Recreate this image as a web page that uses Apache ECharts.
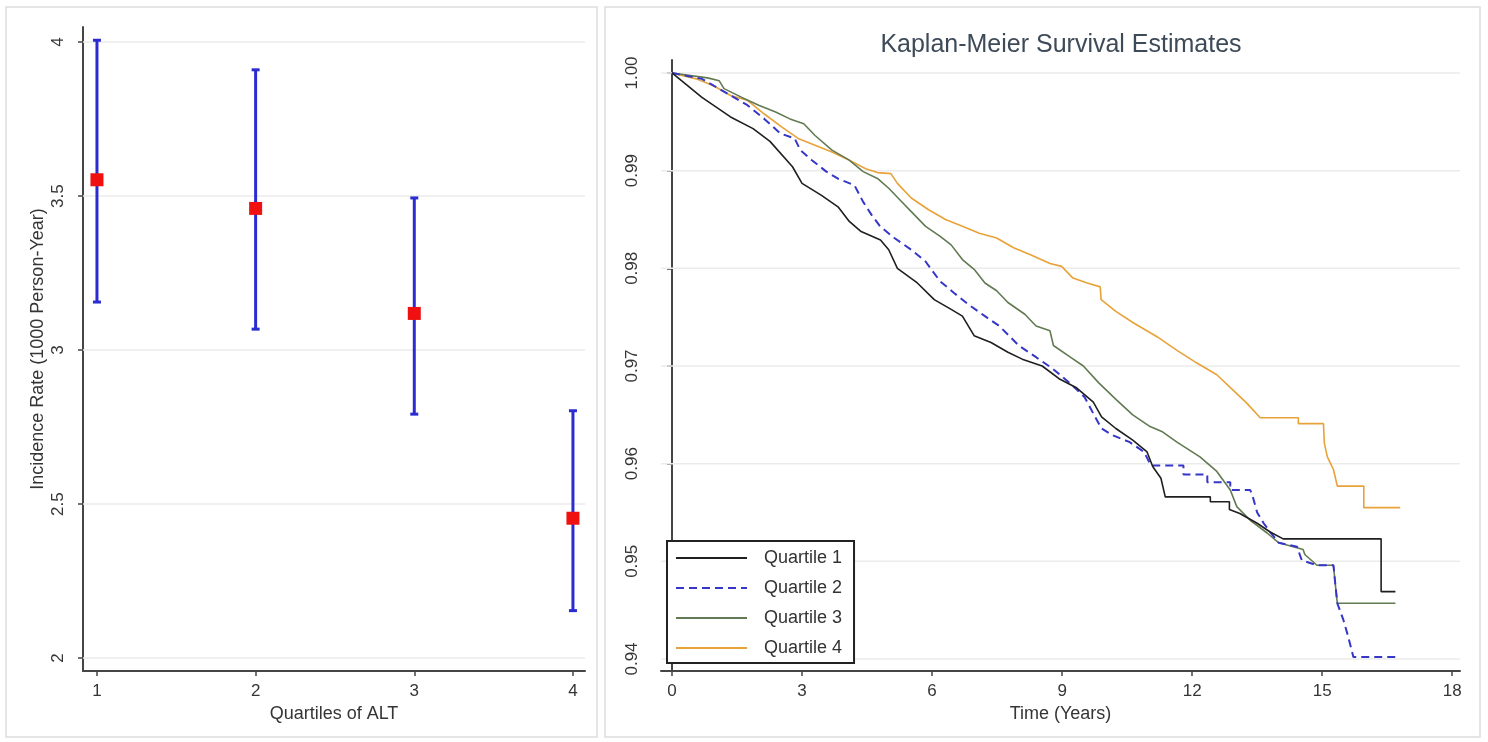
<!DOCTYPE html>
<html>
<head>
<meta charset="utf-8">
<script src="https://cdn.jsdelivr.net/npm/echarts@6/dist/echarts.min.js"></script>
<style>
  html, body { margin: 0; padding: 0; background: #ffffff; }
  #chart { width: 1488px; height: 742px; }
</style>
</head>
<body>
<div id="chart"></div>
<script>
// ---- Left panel: incidence rate by ALT quartile (point estimate + 95% CI) ----
const altQuartiles = [1, 2, 3, 4];
const incidenceRate = [3.553, 3.460, 3.119, 2.454];
const ciLower = [3.156, 3.068, 2.792, 2.154];
const ciUpper = [4.006, 3.910, 3.494, 2.803];
const rateTicks = [2, 2.5, 3, 3.5, 4];
const quartileTicks = [1, 2, 3, 4];

// ---- Right panel: Kaplan-Meier survival by quartile, [years, survival] ----
const seriesNames = ['Quartile 1', 'Quartile 2', 'Quartile 3', 'Quartile 4'];
const yearTicks = [0, 3, 6, 9, 12, 15, 18];
const survivalTicks = [0.94, 0.95, 0.96, 0.97, 0.98, 0.99, 1.00];

const q1Survival = [
  [0, 1.0], [0.69, 0.9975], [1.35, 0.9955], [1.87, 0.9943], [2.26, 0.9930], [2.78, 0.9904],
  [3.0, 0.9887], [3.44, 0.9875], [3.83, 0.9863], [4.09, 0.9848], [4.35, 0.9838], [4.81, 0.9829],
  [5.0, 0.9819], [5.2, 0.9800], [5.66, 0.9785], [6.05, 0.9768], [6.44, 0.9758], [6.7, 0.9751],
  [6.97, 0.9731], [7.36, 0.9724], [7.75, 0.9714], [8.08, 0.9707], [8.54, 0.9700], [8.93, 0.9687],
  [9.32, 0.9678], [9.72, 0.9663], [9.91, 0.9648], [10.24, 0.9636], [10.63, 0.9624], [10.96, 0.9612],
  [11.09, 0.9597], [11.28, 0.9585], [11.38, 0.9566], [12.42, 0.9566], [12.42, 0.9561], [12.86, 0.9561],
  [12.86, 0.9553], [13.1, 0.9549], [13.5, 0.9539], [13.8, 0.9530], [14.1, 0.9523], [16.36, 0.9523],
  [16.36, 0.9469], [16.69, 0.9469]
];
const q2Survival = [
  [0, 1.0], [0.69, 0.9994], [0.96, 0.9987], [1.35, 0.9977], [1.74, 0.9967], [2.13, 0.9953],
  [2.5, 0.9938], [2.83, 0.9933], [2.96, 0.9921], [3.22, 0.9911], [3.56, 0.9899], [3.82, 0.9892],
  [4.21, 0.9885], [4.41, 0.9868], [4.6, 0.9855], [4.8, 0.9843], [5.13, 0.9831], [5.52, 0.9819],
  [5.85, 0.9807], [6.18, 0.9787], [6.5, 0.9775], [6.84, 0.9763], [7.22, 0.9751], [7.55, 0.9741],
  [8.0, 0.9721], [8.4, 0.9709], [8.79, 0.9697], [9.19, 0.9682], [9.52, 0.9668], [9.7, 0.9653],
  [9.91, 0.9636], [10.17, 0.9629], [10.56, 0.9622], [10.89, 0.9612], [11.05, 0.9598], [11.8, 0.9598],
  [11.8, 0.9589], [12.35, 0.9589], [12.35, 0.9581], [12.88, 0.9581], [12.88, 0.9573], [13.34, 0.9573],
  [13.4, 0.9566], [13.5, 0.9550], [13.65, 0.9539], [13.8, 0.9530], [14.0, 0.9519], [14.42, 0.9515],
  [14.53, 0.9501], [14.88, 0.9496], [15.26, 0.9496], [15.3, 0.9478], [15.35, 0.9457], [15.49, 0.9440],
  [15.6, 0.9423], [15.72, 0.9402], [16.69, 0.9402]
];
const q3Survival = [
  [0, 1.0], [0.82, 0.9995], [1.09, 0.9992], [1.2, 0.9984], [1.61, 0.9975], [2.0, 0.9967],
  [2.39, 0.9960], [2.72, 0.9953], [3.04, 0.9948], [3.3, 0.9936], [3.69, 0.9921], [4.08, 0.9911],
  [4.41, 0.9899], [4.74, 0.9892], [5.0, 0.9882], [5.26, 0.9870], [5.52, 0.9858], [5.85, 0.9843],
  [6.18, 0.9833], [6.44, 0.9824], [6.7, 0.9809], [6.97, 0.9799], [7.22, 0.9785], [7.49, 0.9777],
  [7.75, 0.9765], [8.14, 0.9753], [8.4, 0.9741], [8.72, 0.9736], [8.8, 0.9721], [9.19, 0.9709],
  [9.49, 0.9700], [9.84, 0.9683], [10.26, 0.9665], [10.63, 0.9650], [11.03, 0.9638], [11.3, 0.9633],
  [11.65, 0.9622], [12.18, 0.9607], [12.57, 0.9592], [12.88, 0.9573], [13.03, 0.9556], [13.34, 0.9542],
  [13.73, 0.9529], [14.0, 0.9519], [14.56, 0.9512], [14.6, 0.9507], [14.88, 0.9496], [15.26, 0.9496],
  [15.3, 0.9478], [15.35, 0.9457], [16.69, 0.9457]
];
const q4Survival = [
  [0, 1.0], [0.56, 0.9994], [0.96, 0.9987], [1.35, 0.9977], [1.74, 0.9972], [2.13, 0.9958],
  [2.52, 0.9945], [2.91, 0.9933], [3.3, 0.9926], [3.69, 0.9919], [4.08, 0.9911], [4.47, 0.9902],
  [4.74, 0.9898], [5.05, 0.9897], [5.2, 0.9887], [5.52, 0.9872], [5.92, 0.9860], [6.31, 0.9850],
  [6.7, 0.9843], [7.09, 0.9836], [7.49, 0.9831], [7.88, 0.9821], [8.27, 0.9814], [8.72, 0.9805],
  [8.99, 0.9802], [9.25, 0.9790], [9.58, 0.9785], [9.88, 0.9781], [9.9, 0.9768], [10.24, 0.9756],
  [10.65, 0.9744], [11.19, 0.9730], [11.65, 0.9716], [12.11, 0.9703], [12.57, 0.9691], [12.95, 0.9675],
  [13.26, 0.9662], [13.57, 0.9647], [14.45, 0.9647], [14.45, 0.9641], [15.03, 0.9641], [15.05, 0.9621],
  [15.12, 0.9607], [15.26, 0.9594], [15.35, 0.9577], [15.96, 0.9577], [15.96, 0.9555], [16.8, 0.9555]
];
const survivalData = [q1Survival, q2Survival, q3Survival, q4Survival];

// ---- styling ----
const FONT = '"Liberation Sans", Arial, sans-serif';
const AXIS_COLOR = '#454545';
const LABEL_COLOR = '#353535';
const GRID_COLOR = '#ebebeb';
const curveStyles = [
  { color: '#1f1f1f', width: 1.6, type: 'solid' },
  { color: '#3636c8', width: 2, type: [8, 5] },
  { color: '#627a52', width: 1.6, type: 'solid' },
  { color: '#e8a23a', width: 1.6, type: 'solid' }
];

function valueAxis(opts) {
  return Object.assign({
    type: 'value',
    axisLine: { show: true, lineStyle: { color: AXIS_COLOR, width: 2 } },
    axisTick: { show: true, inside: false, length: 5, lineStyle: { color: AXIS_COLOR, width: 1.5 } },
    axisLabel: { color: LABEL_COLOR, fontSize: 17, fontFamily: FONT },
    splitLine: { show: false },
    nameTextStyle: { color: LABEL_COLOR, fontSize: 18, fontFamily: FONT }
  }, opts);
}

// horizontal reference lines at the given y values, spanning the plot width
function gridLines(xAxisIndex, yAxisIndex, values) {
  return {
    type: 'custom',
    xAxisIndex, yAxisIndex,
    z: 1,
    silent: true,
    data: values.map(v => [v]),
    encode: { y: 0 },
    renderItem: function (params, api) {
      const cs = params.coordSys;
      const y = api.coord([0, api.value(0)])[1];
      return {
        type: 'line',
        shape: { x1: cs.x, y1: y, x2: cs.x + cs.width, y2: y },
        style: { stroke: GRID_COLOR, lineWidth: 1.5 }
      };
    }
  };
}

const chart = echarts.init(document.getElementById('chart'), null, { renderer: 'canvas' });

const option = {
  backgroundColor: '#ffffff',
  animation: false,
  textStyle: { fontFamily: FONT },
  grid: [
    { left: 83, top: 27, width: 502, height: 644, containLabel: false },
    { left: 661, top: 60, width: 799, height: 611, containLabel: false }
  ],
  xAxis: [
    valueAxis({
      gridIndex: 0, min: 0.912, max: 4.076,
      name: 'Quartiles of ALT', nameLocation: 'middle', nameGap: 30,
      axisTick: { show: true, length: 5, lineStyle: { color: AXIS_COLOR, width: 1.5 }, customValues: quartileTicks },
      axisLabel: { color: LABEL_COLOR, fontSize: 17, fontFamily: FONT, margin: 12, customValues: quartileTicks }
    }),
    valueAxis({
      gridIndex: 1, min: -0.254, max: 18.18,
      name: 'Time (Years)', nameLocation: 'middle', nameGap: 29,
      axisTick: { show: true, length: 5, lineStyle: { color: AXIS_COLOR, width: 1.5 }, customValues: yearTicks },
      axisLabel: { color: LABEL_COLOR, fontSize: 17, fontFamily: FONT, margin: 12, customValues: yearTicks }
    })
  ],
  yAxis: [
    valueAxis({
      gridIndex: 0, min: 1.958, max: 4.049,
      name: 'Incidence Rate (1000 Person-Year)', nameLocation: 'middle', nameGap: 36, nameRotate: 90,
      axisTick: { show: true, length: 5, lineStyle: { color: AXIS_COLOR, width: 1.5 }, customValues: rateTicks },
      axisLabel: { color: LABEL_COLOR, fontSize: 17, fontFamily: FONT, rotate: 90, margin: 16, customValues: rateTicks }
    }),
    valueAxis({
      gridIndex: 1, min: 0.93877, max: 1.00133,
      axisTick: { show: true, length: 5, lineStyle: { color: AXIS_COLOR, width: 1.5 }, customValues: survivalTicks },
      axisLabel: {
        color: LABEL_COLOR, fontSize: 17, fontFamily: FONT, rotate: 90, margin: 20,
        customValues: survivalTicks, formatter: v => Number(v).toFixed(2)
      }
    })
  ],
  legend: {
    data: seriesNames,
    orient: 'vertical',
    left: 667, top: 541,
    padding: [8, 12, 6, 8],
    itemWidth: 71, itemHeight: 14, itemGap: 12,
    backgroundColor: '#ffffff',
    borderColor: '#222222', borderWidth: 2, borderRadius: 0,
    itemStyle: { opacity: 0, borderWidth: 0 },
    textStyle: { color: '#333333', fontSize: 18, fontFamily: FONT, padding: [0, 0, 0, 12] },
    selectedMode: false
  },
  graphic: [
    { type: 'rect', silent: true, z: -10, shape: { x: 6, y: 7, width: 591, height: 730 },
      style: { fill: 'none', stroke: '#dddddd', lineWidth: 1.5 } },
    { type: 'rect', silent: true, z: -10, shape: { x: 605, y: 7, width: 875, height: 730 },
      style: { fill: 'none', stroke: '#dddddd', lineWidth: 1.5 } },
    { type: 'text', silent: true, x: 1061, y: 45,
      style: { text: 'Kaplan-Meier Survival Estimates', fill: '#3d4a58', font: '25px ' + FONT,
               textAlign: 'center', textVerticalAlign: 'middle' } }
  ],
  series: [
    gridLines(0, 0, rateTicks),
    gridLines(1, 1, survivalTicks),
    {
      name: 'CI',
      type: 'custom',
      xAxisIndex: 0, yAxisIndex: 0,
      z: 3,
      silent: true,
      data: altQuartiles.map((q, i) => [q, ciLower[i], ciUpper[i]]),
      encode: { x: 0, y: [1, 2] },
      renderItem: function (params, api) {
        const lo = api.coord([api.value(0), api.value(1)]);
        const hi = api.coord([api.value(0), api.value(2)]);
        const cap = 4;
        const st = { stroke: '#2b2bd2', lineWidth: 3 };
        return {
          type: 'group',
          children: [
            { type: 'line', shape: { x1: lo[0], y1: lo[1], x2: hi[0], y2: hi[1] }, style: st },
            { type: 'line', shape: { x1: lo[0] - cap, y1: lo[1], x2: lo[0] + cap, y2: lo[1] }, style: st },
            { type: 'line', shape: { x1: hi[0] - cap, y1: hi[1], x2: hi[0] + cap, y2: hi[1] }, style: st }
          ]
        };
      }
    },
    {
      name: 'Incidence rate',
      type: 'scatter',
      xAxisIndex: 0, yAxisIndex: 0,
      z: 4,
      symbol: 'rect',
      symbolSize: 13,
      itemStyle: { color: '#f01010', opacity: 1 },
      data: altQuartiles.map((q, i) => [q, incidenceRate[i]])
    }
  ].concat(survivalData.map((d, i) => ({
    name: seriesNames[i],
    type: 'line',
    xAxisIndex: 1, yAxisIndex: 1,
    z: 3 + (3 - i) * 0.1,
    symbol: 'none',
    showSymbol: false,
    smooth: false,
    itemStyle: { color: curveStyles[i].color },
    lineStyle: { color: curveStyles[i].color, width: curveStyles[i].width, type: curveStyles[i].type },
    data: d
  })))
};

chart.setOption(option);
</script>
</body>
</html>
